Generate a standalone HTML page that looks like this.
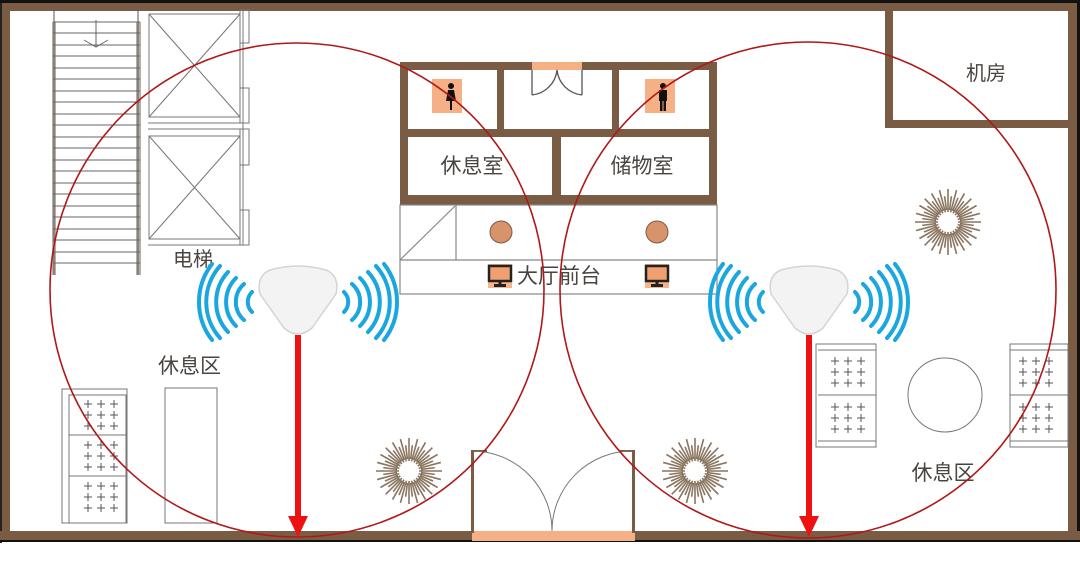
<!DOCTYPE html>
<html><head><meta charset="utf-8"><style>
html,body{margin:0;padding:0;background:#fff;}
svg{display:block;}
text{font-family:"Liberation Sans","Noto Sans CJK SC",sans-serif;fill:#4a4440;}
</style></head><body>
<svg width="1080" height="562" viewBox="0 0 1080 562" xmlns="http://www.w3.org/2000/svg">
<defs>
<g id="sun" stroke="#8a7560" stroke-width="1.6" fill="none">
<circle r="13" stroke="#a08a70"/>
<g id="ray"><line x1="0" y1="-10" x2="0" y2="-33"/><line x1="0" y1="-12" x2="0" y2="-26" transform="rotate(7.5)"/></g>
<use href="#ray" transform="rotate(15)"/><use href="#ray" transform="rotate(30)"/><use href="#ray" transform="rotate(45)"/><use href="#ray" transform="rotate(60)"/><use href="#ray" transform="rotate(75)"/><use href="#ray" transform="rotate(90)"/><use href="#ray" transform="rotate(105)"/><use href="#ray" transform="rotate(120)"/><use href="#ray" transform="rotate(135)"/><use href="#ray" transform="rotate(150)"/><use href="#ray" transform="rotate(165)"/><use href="#ray" transform="rotate(180)"/><use href="#ray" transform="rotate(195)"/><use href="#ray" transform="rotate(210)"/><use href="#ray" transform="rotate(225)"/><use href="#ray" transform="rotate(240)"/><use href="#ray" transform="rotate(255)"/><use href="#ray" transform="rotate(270)"/><use href="#ray" transform="rotate(285)"/><use href="#ray" transform="rotate(300)"/><use href="#ray" transform="rotate(315)"/><use href="#ray" transform="rotate(330)"/><use href="#ray" transform="rotate(345)"/>
</g>
<g id="plus" stroke="#555" stroke-width="1"><line x1="-4" y1="0" x2="4" y2="0"/><line x1="0" y1="-4" x2="0" y2="4"/></g>
<g id="plus9"><use href="#plus" x="0" y="0"/><use href="#plus" x="13" y="0"/><use href="#plus" x="26" y="0"/><use href="#plus" x="0" y="11"/><use href="#plus" x="13" y="11"/><use href="#plus" x="26" y="11"/><use href="#plus" x="0" y="22"/><use href="#plus" x="13" y="22"/><use href="#plus" x="26" y="22"/></g>
<g id="ap">
<path d="M-28,-30 Q0,-38 28,-30 Q42,-24 38,-6 L14,28 Q0,40 -14,28 L-38,-6 Q-42,-24 -28,-30Z" fill="#f3f3f3" stroke="#d4d4d4" stroke-width="1.5"/>
<g fill="none" stroke="#1aa7e0" stroke-width="4" stroke-linecap="round">
<path d="M-46,-8 A14,14 0 0 0 -46,12"/><path d="M-54,-16 A24,24 0 0 0 -54,20"/><path d="M-62,-22 A34,34 0 0 0 -62,26"/><path d="M-70,-28 A44,44 0 0 0 -70,32"/><path d="M-78,-34 A54,54 0 0 0 -78,38"/><path d="M-86,-36 A62,62 0 0 0 -86,40"/>
<path d="M46,-8 A14,14 0 0 1 46,12"/><path d="M54,-16 A24,24 0 0 1 54,20"/><path d="M62,-22 A34,34 0 0 1 62,26"/><path d="M70,-28 A44,44 0 0 1 70,32"/><path d="M78,-34 A54,54 0 0 1 78,38"/><path d="M86,-36 A62,62 0 0 1 86,40"/>
</g></g>
<g id="mon"><rect x="-12" y="-12" width="24" height="24" fill="#f5b58a"/><rect x="-11" y="-10" width="22" height="15" fill="#f0a070" stroke="#222" stroke-width="2.5"/><rect x="-1.5" y="5" width="3" height="4" fill="#222"/><rect x="-6" y="8" width="12" height="3" fill="#222"/></g>
</defs>

<rect x="0" y="0" width="1080" height="3" fill="#111"/>
<rect x="0" y="3" width="1080" height="8" fill="#7a5c45"/>
<rect x="0" y="3" width="2" height="540" fill="#222"/>
<rect x="2" y="3" width="8" height="538" fill="#7a5c45"/>
<rect x="1068" y="3" width="9" height="538" fill="#7a5c45"/>
<rect x="1077" y="0" width="3" height="542" fill="#111"/>
<rect x="0" y="531" width="1080" height="10" fill="#7a5c45"/>
<rect x="0" y="540" width="1080" height="2" fill="#111"/>
<rect x="472" y="531" width="163" height="10" fill="#f5b085"/>
<rect x="471" y="450" width="3" height="83" fill="#7a5c45"/>
<rect x="632" y="450" width="3" height="83" fill="#7a5c45"/>
<line x1="471" y1="451" x2="487" y2="451" stroke="#7a5c45" stroke-width="2"/>
<line x1="620" y1="451" x2="635" y2="451" stroke="#7a5c45" stroke-width="2"/>
<path d="M474,451 A80,80 0 0 1 552,531 A80,80 0 0 1 632,451" fill="none" stroke="#777" stroke-width="1"/>

<rect x="885" y="3" width="8" height="125" fill="#7a5c45"/>
<rect x="885" y="120" width="190" height="8" fill="#7a5c45"/>
<text x="986" y="80" font-size="20" text-anchor="middle">机房</text>

<g stroke="#555" stroke-width="1">
<rect x="52" y="22" width="4" height="253" fill="#b8aea5" stroke="none"/>
<rect x="136" y="22" width="5" height="253" fill="#b8aea5" stroke="none"/>
<line x1="54" y1="10" x2="54" y2="275"/><line x1="138" y1="10" x2="138" y2="275"/>
</g>
<g stroke="#666" stroke-width="1">
<line x1="53" y1="22" x2="140" y2="22"/><line x1="53" y1="33" x2="140" y2="33"/><line x1="53" y1="45" x2="140" y2="45"/><line x1="53" y1="56" x2="140" y2="56"/><line x1="53" y1="68" x2="140" y2="68"/><line x1="53" y1="79" x2="140" y2="79"/><line x1="53" y1="91" x2="140" y2="91"/><line x1="53" y1="102" x2="140" y2="102"/><line x1="53" y1="114" x2="140" y2="114"/><line x1="53" y1="125" x2="140" y2="125"/><line x1="53" y1="137" x2="140" y2="137"/><line x1="53" y1="148" x2="140" y2="148"/><line x1="53" y1="160" x2="140" y2="160"/><line x1="53" y1="171" x2="140" y2="171"/><line x1="53" y1="183" x2="140" y2="183"/><line x1="53" y1="194" x2="140" y2="194"/><line x1="53" y1="206" x2="140" y2="206"/><line x1="53" y1="217" x2="140" y2="217"/><line x1="53" y1="229" x2="140" y2="229"/><line x1="53" y1="240" x2="140" y2="240"/><line x1="53" y1="252" x2="140" y2="252"/><line x1="53" y1="263" x2="140" y2="263"/>
<line x1="96" y1="20" x2="96" y2="47"/><path d="M84,40 L96,47 L108,40" fill="none"/>
</g>
<g stroke="#777" stroke-width="1" fill="none">
<rect x="149" y="14" width="91" height="103"/><line x1="149" y1="14" x2="240" y2="117"/><line x1="240" y1="14" x2="149" y2="117"/>
<rect x="149" y="136" width="91" height="103"/><line x1="149" y1="136" x2="240" y2="239"/><line x1="240" y1="136" x2="149" y2="239"/>
<line x1="148" y1="123" x2="249" y2="123"/><line x1="148" y1="129" x2="249" y2="129"/><line x1="148" y1="245" x2="249" y2="245"/>
<line x1="243" y1="10" x2="243" y2="245"/>
<rect x="240" y="10" width="9" height="33"/><rect x="240" y="88" width="9" height="35"/><rect x="240" y="129" width="9" height="36"/><rect x="240" y="210" width="9" height="35"/>
</g>
<text x="173" y="266" font-size="20">电梯</text>

<g fill="#7a5c45">
<rect x="400" y="62" width="317" height="8"/>
<rect x="400" y="62" width="8" height="143"/>
<rect x="709" y="62" width="8" height="143"/>
<rect x="400" y="129" width="317" height="8"/>
<rect x="400" y="195" width="317" height="10"/>
<rect x="497" y="62" width="7" height="70"/>
<rect x="612" y="62" width="7" height="70"/>
<rect x="552" y="129" width="9" height="70"/>
</g>
<rect x="532" y="62" width="50" height="8" fill="#f5b085"/>
<path d="M532,70 L532,95 M582,70 L582,95 M532,95 A28,28 0 0 0 557,70 M582,95 A28,28 0 0 1 557,70" fill="none" stroke="#555" stroke-width="1.3"/>
<rect x="432" y="79" width="30" height="34" fill="#f5b085"/>
<g fill="#111"><circle cx="451" cy="86" r="3"/><path d="M448,90 L454,90 L456,101 L452,101 L452,110 L450,110 L450,101 L446,101Z"/></g>
<rect x="645" y="79" width="30" height="34" fill="#f5b085"/>
<g fill="#111"><circle cx="663" cy="86" r="3"/><rect x="659" y="90" width="8" height="11"/><rect x="660" y="100" width="2.5" height="11"/><rect x="663.5" y="100" width="2.5" height="11"/></g>
<text x="472" y="173" font-size="21" text-anchor="middle">休息室</text>
<text x="642" y="173" font-size="21" text-anchor="middle">储物室</text>
<g stroke="#888" stroke-width="1.2" fill="none">
<rect x="400" y="205" width="317" height="89"/>
<line x1="400" y1="260" x2="717" y2="260"/>
<line x1="456" y1="205" x2="456" y2="260"/>
<line x1="400" y1="260" x2="455" y2="206"/>
</g>
<circle cx="501" cy="232" r="11" fill="#d8936a" stroke="#7a5c45" stroke-width="1"/>
<circle cx="657" cy="232" r="11" fill="#d8936a" stroke="#7a5c45" stroke-width="1"/>
<use href="#mon" x="500" y="276"/>
<use href="#mon" x="657" y="276"/>
<text x="559" y="283" font-size="21" text-anchor="middle">大厅前台</text>

<g stroke="#777" stroke-width="1" fill="none">
<rect x="62" y="389" width="65" height="134"/>
<path d="M69,395 L126,395 L126,523 L69,523 Z"/>
<line x1="69" y1="435" x2="126" y2="435"/><line x1="69" y1="476" x2="126" y2="476"/>
<rect x="165" y="388" width="52" height="135"/>
</g>
<use href="#plus9" x="88" y="404"/><use href="#plus9" x="88" y="445"/><use href="#plus9" x="88" y="486"/>
<text x="158" y="373" font-size="21">休息区</text>

<g stroke="#777" stroke-width="1" fill="none">
<rect x="816" y="344" width="60" height="103"/><line x1="818" y1="395" x2="876" y2="395"/><line x1="818" y1="350" x2="876" y2="350"/><line x1="818" y1="441" x2="876" y2="441"/>
<rect x="1010" y="344" width="58" height="103"/><line x1="1010" y1="395" x2="1068" y2="395"/><line x1="1010" y1="350" x2="1068" y2="350"/><line x1="1010" y1="441" x2="1068" y2="441"/>
<circle cx="945" cy="395" r="37"/>
</g>
<use href="#plus9" x="835" y="361"/><use href="#plus9" x="835" y="407"/>
<use href="#plus9" x="1023" y="361"/><use href="#plus9" x="1023" y="407"/>
<text x="943" y="480" font-size="21" text-anchor="middle">休息区</text>

<use href="#sun" x="409" y="471"/>
<use href="#sun" x="695" y="471"/>
<use href="#sun" x="948" y="222"/>

<circle cx="297" cy="290" r="247" fill="none" stroke="#b01818" stroke-width="1.6"/>
<circle cx="808" cy="290" r="248" fill="none" stroke="#b01818" stroke-width="1.6"/>

<use href="#ap" x="298" y="300"/>
<use href="#ap" x="809" y="300"/>

<rect x="295" y="335" width="6" height="184" fill="#ee1111"/>
<path d="M288,516 L308,516 L298,537Z" fill="#ee1111"/>
<rect x="806" y="335" width="6" height="184" fill="#ee1111"/>
<path d="M799,516 L819,516 L809,537Z" fill="#ee1111"/>
</svg>
</body></html>
